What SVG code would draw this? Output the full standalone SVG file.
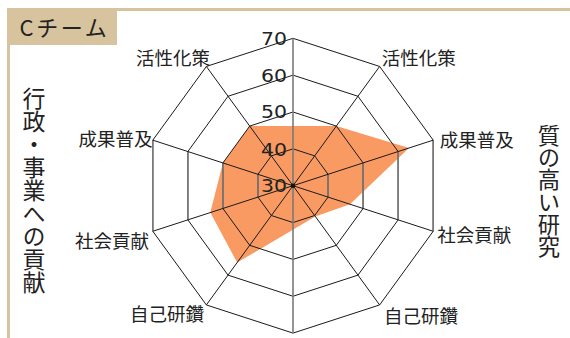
<svg xmlns="http://www.w3.org/2000/svg" width="570" height="338" viewBox="0 0 570 338">
<style>
.frame{fill:#d7c49e}
.ring{fill:none;stroke:#1a1a1a;stroke-width:1}
.spoke{stroke:#1a1a1a;stroke-width:1}
.vert{stroke:#7a7a7a;stroke-width:1.6}
.lbl{font-family:"Noto Sans CJK JP","Noto Sans",sans-serif;font-size:18.5px;fill:#222}
.num{font-family:"DejaVu Sans",sans-serif;font-size:18.5px;fill:#222}
.side{font-family:"Noto Sans CJK JP",sans-serif;fill:#222;writing-mode:vertical-rl}
</style>
<rect width="570" height="338" fill="#ffffff"/>
<g id="frame">
<rect class="frame" x="7" y="8" width="563" height="3"/>
<rect class="frame" x="7" y="8" width="3" height="330"/>
<rect class="frame" x="7" y="8" width="110" height="37"/>
<text x="19.5" y="36" font-family="'Noto Sans CJK JP',sans-serif" font-size="22" letter-spacing="2.6" fill="#222">Cチーム</text>
</g>
<g id="data">
<polygon points="249.68,126.08 336.32,126.08 409,148 350,204.2 315.3,216.5 237.2,262.6 210.3,212.6 222.9,162.93" fill="#f99a62"/>
</g>
<g id="grid">
<polygon class="ring" points="293,38.3 379.64,66.45 433.19,140.15 433.19,231.25 379.64,304.95 293,333.1 206.36,304.95 152.81,231.25 152.81,140.15 206.36,66.45"/>
<polygon class="ring" points="293,75.15 357.98,96.27 398.14,151.54 398.14,219.86 357.98,275.13 293,296.25 228.02,275.13 187.86,219.86 187.86,151.54 228.02,96.27"/>
<polygon class="ring" points="293,112 336.32,126.08 363.1,162.93 363.1,208.47 336.32,245.32 293,259.4 249.68,245.32 222.9,208.47 222.9,162.93 249.68,126.08"/>
<polygon class="ring" points="293,148.85 314.66,155.89 328.05,174.31 328.05,197.09 314.66,215.51 293,222.55 271.34,215.51 257.95,197.09 257.95,174.31 271.34,155.89"/>
<g class="vert">
<line x1="433.19" y1="140.15" x2="433.19" y2="231.25"/>
<line x1="152.81" y1="140.15" x2="152.81" y2="231.25"/>
<line x1="398.14" y1="151.54" x2="398.14" y2="219.86"/>
<line x1="187.86" y1="151.54" x2="187.86" y2="219.86"/>
<line x1="363.1" y1="162.93" x2="363.1" y2="208.47"/>
<line x1="222.9" y1="162.93" x2="222.9" y2="208.47"/>
<line x1="328.05" y1="174.31" x2="328.05" y2="197.09"/>
<line x1="257.95" y1="174.31" x2="257.95" y2="197.09"/>
</g>
</g>
<g id="connectors">
<line class="spoke" x1="379.64" y1="66.45" x2="206.36" y2="304.95"/>
<line class="spoke" x1="433.19" y1="140.15" x2="152.81" y2="231.25"/>
<line class="spoke" x1="433.19" y1="231.25" x2="152.81" y2="140.15"/>
<line class="spoke" x1="379.64" y1="304.95" x2="206.36" y2="66.45"/>
<line class="vert" x1="293" y1="38.3" x2="293" y2="333.1"/>
<circle cx="293" cy="185.7" r="2.2" fill="#111"/>
</g>
<g id="scale">
<text class="num" x="261" y="45" textLength="26" lengthAdjust="spacingAndGlyphs">70</text>
<text class="num" x="261" y="81.7" textLength="26" lengthAdjust="spacingAndGlyphs">60</text>
<text class="num" x="261" y="118.3" textLength="26" lengthAdjust="spacingAndGlyphs">50</text>
<text class="num" x="261" y="156" textLength="26" lengthAdjust="spacingAndGlyphs">40</text>
<text class="num" x="261" y="191.7" textLength="26" lengthAdjust="spacingAndGlyphs">30</text>
</g>
<g id="labels">
<text class="lbl" x="210" y="64.5" text-anchor="end">活性化策</text>
<text class="lbl" x="381.7" y="65" text-anchor="start">活性化策</text>
<text class="lbl" x="152.5" y="146" text-anchor="end">成果普及</text>
<text class="lbl" x="439.7" y="147" text-anchor="start">成果普及</text>
<text class="lbl" x="149" y="248.3" text-anchor="end">社会貢献</text>
<text class="lbl" x="437.3" y="241.7" text-anchor="start">社会貢献</text>
<text class="lbl" x="204" y="320.7" text-anchor="end">自己研鑽</text>
<text class="lbl" x="384" y="323.3" text-anchor="start">自己研鑽</text>
</g>
<g id="side-titles">
<text class="side" x="34" y="87" font-size="23">行政・事業への貢献</text>
<text class="side" x="549" y="124" font-size="22.3">質の高い研究</text>
</g>
</svg>
